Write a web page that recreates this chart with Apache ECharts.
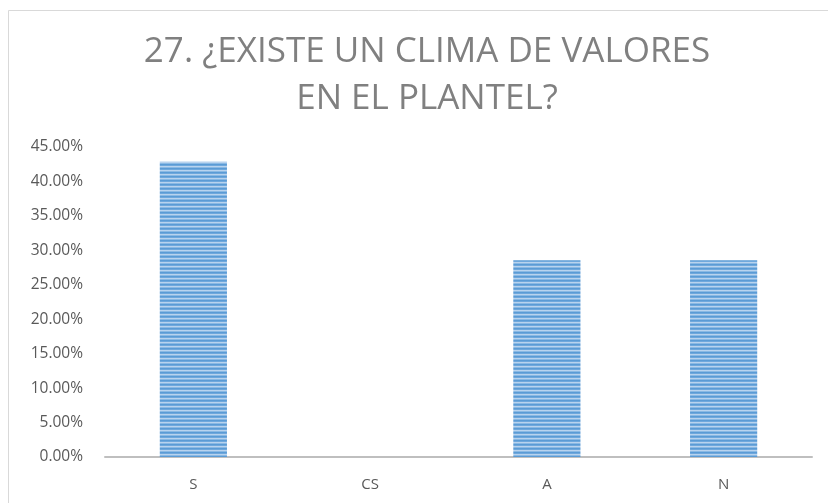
<!DOCTYPE html>
<html>
<head>
<meta charset="utf-8">
<script src="https://cdn.jsdelivr.net/npm/echarts@6/dist/echarts.min.js"></script>
<style>
  html, body { margin: 0; padding: 0; background: #ffffff; }
  #chart { width: 828px; height: 503px; }
</style>
</head>
<body>
<div id="chart"></div>
<script>
// Answer categories and their shares
const categories = ['S', 'CS', 'A', 'N'];
const shares = [0.4286, 0, 0.2857, 0.2857];
const titleText = '27. ¿EXISTE UN CLIMA DE VALORES\nEN EL PLANTEL?';

// Horizontal stripe fill for the bars
function stripePattern() {
  const c = document.createElement('canvas');
  c.width = 4; c.height = 4;
  const ctx = c.getContext('2d');
  const rows = ['#5b9bd5', '#6fa8dc', '#b9d3ee', '#8ab9e4'];
  rows.forEach((col, i) => { ctx.fillStyle = col; ctx.fillRect(0, i, 4, 1); });
  return c;
}

const chart = echarts.init(document.getElementById('chart'), null, { renderer: 'canvas' });
const labelFont = '"Open Sans", "Liberation Sans", sans-serif';

chart.setOption({
  animation: false,
  backgroundColor: '#ffffff',
  title: {
    text: titleText,
    left: 422,
    textAlign: 'center',
    top: 24,
    textStyle: {
      fontFamily: labelFont,
      fontWeight: 'normal',
      fontSize: 35,
      color: '#808080',
      lineHeight: 47
    }
  },
  graphic: [{
    type: 'rect',
    shape: { x: 8.5, y: 10.5, width: 840, height: 520 },
    style: { fill: 'none', stroke: '#d9d9d9', lineWidth: 1 },
    silent: true
  }],
  grid: { left: 105, right: 16, top: 147, bottom: 46, containLabel: false },
  xAxis: {
    type: 'category',
    data: categories,
    axisLine: { lineStyle: { color: '#bfbfbf', width: 2 } },
    axisTick: { show: false },
    axisLabel: { color: '#595959', fontFamily: labelFont, fontSize: 15, margin: 20 }
  },
  yAxis: {
    type: 'value',
    min: 0,
    max: 0.45,
    interval: 0.05,
    axisLine: { show: false },
    axisTick: { show: false },
    splitLine: { show: false },
    axisLabel: {
      color: '#595959',
      fontFamily: labelFont,
      fontSize: 15.5,
      margin: 22,
      formatter: v => (v * 100).toFixed(2) + '%'
    }
  },
  series: [{
    type: 'bar',
    data: shares,
    barWidth: '38%',
    itemStyle: {
      color: { image: stripePattern(), repeat: 'repeat' }
    }
  }]
});
</script>
</body>
</html>
